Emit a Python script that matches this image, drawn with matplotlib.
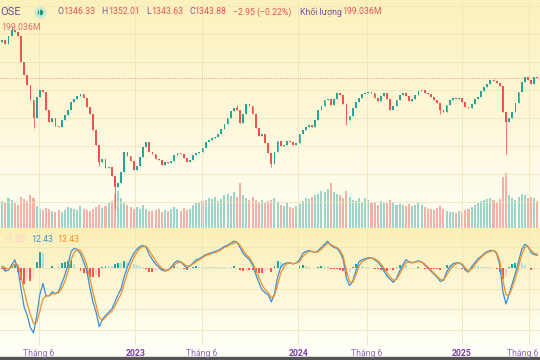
import numpy as np
import pandas as pd
import matplotlib
matplotlib.use('Agg')
import matplotlib.pyplot as plt
import matplotlib.dates as mdates
from matplotlib.colors import LinearSegmentedColormap
from matplotlib.patches import Rectangle
from matplotlib.transforms import blended_transform_factory

plt.rcParams['font.family'] = ['Roboto', 'DejaVu Sans']

W, H = 540, 360

# ── data (weekly bars) ──
dates = pd.date_range('2022-03-11', '2025-06-20', freq='W-FRI')
first_open = 1472

closes = [
    1480, 1465, 1494, 1515, 1508, 1494, 1401, 1355, 1319, 1265,
    1201, 1276, 1301, 1294, 1230, 1187, 1201, 1173, 1169, 1194,
    1212, 1230, 1258, 1269, 1280, 1287, 1273, 1240, 1215, 1158,
    1105, 1044, 1055, 1023, 1026, 994, 955, 969, 1008, 1080,
    1066, 1048, 1016, 1030, 1062, 1098, 1115, 1080, 1073, 1055,
    1051, 1033, 1044, 1041, 1048, 1069, 1076, 1073, 1058, 1044,
    1051, 1069, 1076, 1080, 1094, 1115, 1122, 1130, 1133, 1144,
    1162, 1180, 1201, 1226, 1237, 1230, 1183, 1215, 1251, 1244,
    1215, 1166, 1137, 1144, 1112, 1076, 1037, 1080, 1119, 1101,
    1105, 1119, 1115, 1105, 1112, 1144, 1158, 1169, 1176, 1169,
    1194, 1230, 1244, 1265, 1269, 1248, 1269, 1290, 1283, 1251,
    1194, 1208, 1237, 1258, 1273, 1287, 1290, 1294, 1290, 1273,
    1262, 1280, 1290, 1269, 1230, 1244, 1265, 1283, 1290, 1280,
    1262, 1269, 1283, 1298, 1301, 1290, 1287, 1276, 1265, 1255,
    1230, 1223, 1248, 1265, 1273, 1269, 1273, 1258, 1240, 1237,
    1251, 1269, 1276, 1298, 1312, 1323, 1337, 1334, 1326, 1315,
    1223, 1187, 1201, 1223, 1255, 1294, 1330, 1348, 1337, 1323,
    1348, 1343.88,
]
wick_low = {10: 1165, 31: 1030, 36: 875, 86: 1027, 110: 1176, 140: 1215, 161: 1073}
wick_high = {3: 1528, 75: 1248, 157: 1342}

volumes = [
    900, 860, 1000, 940, 820, 780, 1050, 980, 900, 1100,
    1000, 720, 650, 600, 680, 620, 560, 540, 590, 520,
    610, 700, 680, 640, 600, 720, 650, 610, 560, 640,
    700, 760, 680, 740, 820, 900, 1150, 1250, 1000, 880,
    760, 700, 650, 700, 620, 760, 640, 580, 560, 600,
    620, 540, 600, 560, 640, 700, 620, 580, 660, 600,
    640, 760, 820, 880, 900, 950, 1000, 980, 1050, 900,
    960, 1100, 1150, 1080, 1200, 1050, 1500, 1100, 1000, 920,
    1050, 950, 880, 920, 840, 900, 950, 1000, 880, 760,
    720, 820, 700, 680, 740, 800, 900, 1000, 980, 1050,
    1100, 1150, 1250, 1200, 1300, 1500, 1200, 1150, 1100, 1000,
    1250, 1050, 950, 900, 1000, 880, 1000, 950, 820, 860,
    780, 900, 850, 820, 950, 880, 780, 800, 760, 740,
    800, 720, 760, 820, 760, 700, 640, 620, 600, 680,
    720, 650, 560, 520, 540, 500, 560, 540, 600, 640,
    700, 760, 820, 900, 950, 980, 1000, 920, 880, 960,
    1700, 1850, 1100, 1000, 950, 1050, 1150, 1100, 1000, 1050,
    1000, 900,
]

macd = [
    1, -3, -2, 3, 8, -1, -20, -38, -46, -58,
    -63, -47, -26, -15, -27, -27, -23, -25, -23, -15,
    -7, 3, 16, 19, 18, 14, 6, -2, -19, -33,
    -43, -57, -50, -46, -43, -40, -33, -26, -20, -8,
    1, 8, 14, 18, 21, 22, 20, 13, 8, 4,
    1, -2, -3, -2, 1, 5, 7, 6, 3, 0,
    2, 5, 8, 9, 11, 13, 14, 15, 16, 17,
    19, 21, 22, 24, 26, 25, 20, 14, 11, 8,
    3, -6, -14, -21, -24, -26, -33, -25, -9, 1,
    4, 5, 5, 4, 5, 8, 14, 16, 17, 16,
    15, 17, 20, 23, 26, 22, 20, 19, 15, 8,
    -10, -17, -13, -3, 6, 8, 9, 10, 10, 8,
    6, 2, -3, -8, -11, -14, -10, -3, 3, 8,
    6, 5, 6, 7, 6, 3, 0, -3, -6, -9,
    -13, -12, -4, 1, 4, 5, 5, 3, -2, -4,
    1, 5, 9, 11, 14, 16, 17, 17, 14, 3,
    -23, -35, -25, -15, -5, 6, 18, 23, 21, 15,
    13, 12.43,
]
signal = [
    2, 0, -1, 1, 4, 3, -8, -22, -35, -45,
    -54, -53, -42, -30, -27, -27, -25, -25, -24, -20,
    -13, -4, 8, 15, 18, 17, 11, 3, -10, -24,
    -36, -48, -51, -48, -45, -42, -37, -31, -25, -15,
    -5, 3, 10, 15, 19, 21, 21, 17, 12, 7,
    3, 0, -2, -2, 0, 3, 5, 6, 4, 2,
    2, 4, 6, 8, 10, 12, 13, 14, 15, 16,
    18, 20, 21, 23, 24, 25, 22, 17, 13, 10,
    5, -2, -9, -16, -21, -24, -29, -27, -16, -5,
    1, 4, 5, 4, 5, 6, 11, 14, 16, 16,
    15, 16, 18, 21, 24, 23, 21, 20, 17, 11,
    -3, -13, -14, -7, 2, 6, 8, 9, 10, 9,
    7, 4, 0, -5, -9, -12, -11, -6, 0, 5,
    6, 5, 6, 6, 6, 4, 1, -2, -5, -8,
    -11, -12, -7, -2, 2, 4, 5, 4, 0, -3,
    -1, 3, 7, 10, 13, 15, 16, 17, 15, 7,
    -12, -26, -26, -19, -10, 1, 13, 20, 21, 17,
    14.2, 13.43,
]

last_bar = {'O': 1346.33, 'H': 1352.01, 'L': 1343.63, 'C': 1343.88}
last_chg, last_pct = -2.95, -0.22
last_vol = '199.036M'

tick_dates = ['2022-06-01', '2023-01-03', '2023-06-01', '2024-01-02',
              '2024-06-03', '2025-01-02', '2025-06-02']
tick_labels = ['Tháng 6', '2023', 'Tháng 6', '2024', 'Tháng 6', '2025', 'Tháng 6']

assert len(closes) == len(dates) == len(volumes) == len(macd) == len(signal)

# ── colours ──
COL_UP, COL_DN = '#26a69a', '#ef5350'
COL_MACD, COL_SIG = '#3d8fd6', '#f0912f'
PURPLE, VALRED = '#7d55a8', '#e5575c'
GRID = '#efe5bc'

x = mdates.date2num(dates)
c = np.array(closes, float)
o = np.r_[first_open, c[:-1]]
lo = np.minimum(o, c)
hi = np.maximum(o, c)
for k, v in wick_low.items():
    lo[k] = v
for k, v in wick_high.items():
    hi[k] = v
up = c >= o
cols = np.where(up, COL_UP, COL_DN)

hist = np.array(macd) - np.array(signal)
prev = np.r_[0, hist[:-1]]
hcols = np.where(hist >= 0,
                 np.where(hist > prev, '#26a69a', '#b2dfdb'),
                 np.where(hist > prev, '#ffcdd2', '#ff5252'))

xmin = mdates.date2num(pd.Timestamp('2022-03-06'))
xmax = mdates.date2num(pd.Timestamp('2025-06-26'))

fig = plt.figure(figsize=(W / 100, H / 100), dpi=100)
renderer = fig.canvas.get_renderer()


def rect(top, bottom):
    return [0, 1 - bottom / H, 1, (bottom - top) / H]


# background
bg = fig.add_axes([0, 0, 1, 1])
bg.axis('off')


def grad(top_col, bot_col, y0, y1):
    cmap = LinearSegmentedColormap.from_list('', [top_col, bot_col])
    bg.imshow(np.linspace(0, 1, 128).reshape(-1, 1), cmap=cmap, aspect='auto',
              extent=(0, W, y1, y0), interpolation='bilinear')


bg.add_patch(Rectangle((0, 0), W, H, color='#fffef6', zorder=-5))
grad('#fcf1bc', '#fffef4', 0, 228)
grad('#fbefb5', '#fffff6', 228, 345)
bg.add_patch(Rectangle((0, 357.3), W, 3, color='#555555', zorder=5))
bg.set_xlim(0, W)
bg.set_ylim(H, 0)

# volume
vax = fig.add_axes(rect(0, 228))
vax.set_facecolor('none')
vax.axis('off')
vax.bar(x, volumes, width=4.6, color=cols, alpha=0.45, linewidth=0)
vax.set_xlim(xmin, xmax)
vax.set_ylim(0, 7600)

# price
pax = fig.add_axes(rect(0, 228))
pax.set_facecolor('none')
for s in pax.spines.values():
    s.set_visible(False)
pax.set_yticks(range(900, 1700, 100))
pax.yaxis.grid(True, color=GRID, lw=0.6)
pax.tick_params(length=0, labelleft=False, labelbottom=False)
pax.set_xticks([])
for d in tick_dates:
    pax.axvline(mdates.date2num(pd.Timestamp(d)), color=GRID, lw=0.6, zorder=0)
pax.vlines(x, lo, hi, colors=cols, lw=0.55, zorder=2)
pax.bar(x, np.maximum(np.abs(c - o), 2.0), bottom=np.minimum(o, c), width=4.0,
        color=cols, linewidth=0, zorder=3)
pax.axhline(c[-1], color='#e9a189', lw=0.7, ls=(0, (1, 1.3)), zorder=1)
pax.set_xlim(xmin, xmax)
pax.set_ylim(1622.5 - 3.57 * 228, 1622.5)

# MACD
mx = fig.add_axes(rect(228, 345))
mx.set_facecolor('none')
for s in mx.spines.values():
    s.set_visible(False)
mx.set_yticks([20, 0, -20, -40, -60])
mx.yaxis.grid(True, color=GRID, lw=0.6)
mx.tick_params(length=0, labelleft=False, labelbottom=False)
mx.set_xticks([])
mx.bar(x, hist, width=4.2, color=hcols, linewidth=0, zorder=2)
mx.plot(x, macd, color=COL_MACD, lw=0.9, zorder=3)
mx.plot(x, signal, color=COL_SIG, lw=0.9, zorder=3)
mx.set_xlim(xmin, xmax)
mx.set_ylim(-(345 - 268) / 1.03, (268 - 228) / 1.03)

trans = blended_transform_factory(mx.transData, mx.transAxes)
for d, lab in zip(tick_dates, tick_labels):
    xd = mdates.date2num(pd.Timestamp(d))
    mx.axvline(xd, color=GRID, lw=0.6, zorder=0)
    bold = lab.isdigit()
    t = mx.text(xd, -8.5 / 117, lab, transform=trans, ha='center', va='center',
                fontsize=6.2, fontweight='bold' if bold else 'normal',
                color='#7a3ea6' if bold else '#8e6bbf', clip_on=False)
    bb = t.get_window_extent(renderer)
    if bb.x1 > W - 1:
        # keep the last label inside the picture
        t.set_ha('right')
        t.set_x(xmax)
        t.set_transform(blended_transform_factory(mx.transData, mx.transAxes))
        t.set_position((mx.transData.inverted().transform((W - 1.5, 0))[0], -8.5 / 117))


# ── legend texts ──
def put(xpx, ypx, parts, size=6.3, **kw):
    for s, col in parts:
        t = fig.text(xpx / W, 1 - ypx / H, s, color=col, fontsize=size,
                     ha='left', va='center', **kw)
        xpx += t.get_window_extent(renderer).width


def fmt(v):
    return f'{v:.2f}'.replace('-', '−')


put(0, 12, [('OSE', '#6f4e9e')], size=8)
bg.scatter([40], [12], s=60, color='#cfe8d4', zorder=6)
bg.scatter([40], [12], s=9, color='#129c7c', zorder=7)
for xp, key in [(57, 'O'), (101.5, 'H'), (146.5, 'L'), (189, 'C')]:
    put(xp, 12, [(key, PURPLE), (fmt(last_bar[key]), VALRED)])
put(233, 12, [(f'{fmt(last_chg)} ({fmt(last_pct)}%)', VALRED)])
put(300, 12, [('Khối lượng', PURPLE), (last_vol, VALRED)])
put(1, 28, [(last_vol, VALRED)], alpha=0.85)

put(3, 240, [(fmt(hist[-1]), hcols[-1])])
put(31, 240, [(fmt(macd[-1]), COL_MACD)])
put(57, 240, [(fmt(signal[-1]), COL_SIG)])

fig.savefig('out.png', dpi=100)
